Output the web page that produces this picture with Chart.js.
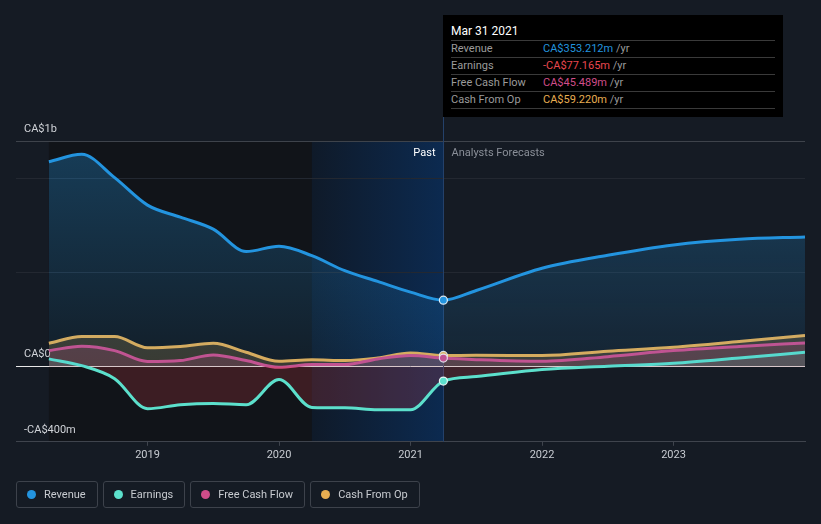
<!DOCTYPE html>
<html>
<head>
<meta charset="utf-8">
<script src="https://cdn.jsdelivr.net/npm/chart.js@4.4.0/dist/chart.umd.min.js"></script>
<style>
  html, body { margin: 0; padding: 0; background: #151b24; }
  body { width: 821px; height: 524px; position: relative; overflow: hidden; font-family: Roboto, "Open Sans", sans-serif; }
  #chartBox { position: absolute; left: 0; top: 0; width: 821px; height: 524px; }
  .tip { position: absolute; left: 443px; top: 15px; width: 340px; height: 102px; background: #000; box-sizing: border-box; padding: 8px 8px 0 8px; }
  .tip .title { color: #fff; font-size: 12px; height: 17px; line-height: 17px; border-bottom: 1px solid #3a3a3a; }
  .tip .row { height: 16px; line-height: 16px; font-size: 11px; border-bottom: 1px solid #3a3a3a; display: flex; }
  .tip .k { width: 92px; color: #9b9b9b; }
  .tip .u { color: #9b9b9b; }
  .legend { position: absolute; left: 16px; top: 481px; display: flex; gap: 5px; }
  .legend .item { height: 27px; box-sizing: border-box; border: 1px solid #3d424b; border-radius: 3px; display: flex; align-items: center; padding: 0 11px 0 10px; color: #c8cbd0; font-size: 11px; }
  .legend .dot { width: 9px; height: 9px; border-radius: 50%; margin-right: 8px; }
</style>
</head>
<body>
<div id="chartBox"><canvas id="myChart" width="821" height="524"></canvas></div>

<div class="tip">
  <div class="title">Mar 31 2021</div>
  <div class="row"><span class="k">Revenue</span><span style="color:#2394df">CA$353.212m</span><span class="u">&nbsp;/yr</span></div>
  <div class="row"><span class="k">Earnings</span><span style="color:#e8474f">-CA$77.165m</span><span class="u">&nbsp;/yr</span></div>
  <div class="row"><span class="k">Free Cash Flow</span><span style="color:#d04d8a">CA$45.489m</span><span class="u">&nbsp;/yr</span></div>
  <div class="row"><span class="k">Cash From Op</span><span style="color:#e8ae52">CA$59.220m</span><span class="u">&nbsp;/yr</span></div>
</div>

<div class="legend" id="legend"></div>

<script>
// reported quarters (trailing twelve months) and analyst forecast points, in years
const pastYears = [2018.25, 2018.5, 2018.75, 2019.0, 2019.25, 2019.5, 2019.75, 2020.0, 2020.25, 2020.5, 2020.75, 2021.0, 2021.25];
const forecastYears = [2021.5, 2022.0, 2022.5, 2023.0, 2023.5, 2024.0];

// values in CA$ millions
const revenuePast = [1090, 1129, 1005, 859, 795, 731, 612, 640, 590, 510, 453, 396, 353.212];
const revenueForecast = [405, 523, 592, 647, 677, 690];
const earningsPast = [41, 5, -64, -224, -203, -196, -203, -69, -217, -219, -229, -229, -77.165];
const earningsForecast = [-53, -16, 2, 18, 46, 76];
const fcfPast = [85, 108, 85, 27, 32, 62, 32, -4, 11, 11, 41, 59, 45.489];
const fcfForecast = [37, 28, 53, 85, 107, 126];
const cfoPast = [124, 160, 160, 100, 107, 124, 76, 28, 36, 32, 46, 73, 59.22];
const cfoForecast = [60, 59, 82, 103, 133, 165];

const seriesNames = ['Revenue', 'Earnings', 'Free Cash Flow', 'Cash From Op'];
const seriesColors = ['#2394df', '#5ce0cc', '#d04d8a', '#e8ae52'];

const xTicks = [2019, 2020, 2021, 2022, 2023];
const yTicks = [-400, 0, 500, 1000, 1200];
const yLabels = { '-400': '-CA$400m', '0': 'CA$0', '1200': 'CA$1b' };

const highlightStart = 2020.25; // last year of reported data
const nowYear = 2021.25;        // Mar 31 2021

function toPoints(past, forecast) {
  const pts = past.map((v, i) => ({ x: pastYears[i], y: v }));
  forecast.forEach((v, i) => pts.push({ x: forecastYears[i], y: v }));
  return pts;
}

const markerIndex = pastYears.length - 1;

function makeDataset(idx, past, forecast, fill) {
  return {
    label: seriesNames[idx],
    data: toPoints(past, forecast),
    borderColor: seriesColors[idx],
    borderWidth: 3,
    fill: fill.fill,
    backgroundColor: fill.bg,
    cubicInterpolationMode: 'monotone',
    pointRadius: ctx => ctx.dataIndex === markerIndex ? 4 : 0,
    pointBackgroundColor: seriesColors[idx],
    pointBorderColor: 'rgba(255,255,255,0.85)',
    pointBorderWidth: 1.2,
    pointHoverRadius: 0
  };
}

// Background bands, divider and Past/Forecast captions
const bandsPlugin = {
  id: 'bands',
  beforeDraw(chart) {
    const { ctx, chartArea, scales: { x } } = chart;
    const x0 = x.getPixelForValue(pastYears[0]);
    const x1 = x.getPixelForValue(highlightStart);
    const x2 = x.getPixelForValue(nowYear);
    ctx.save();
    ctx.fillStyle = '#111419';
    ctx.fillRect(x0, chartArea.top, x1 - x0, chartArea.height);
    const g = ctx.createLinearGradient(x1, 0, x2, 0);
    g.addColorStop(0, '#0f1a29');
    g.addColorStop(1, '#0c2a50');
    ctx.fillStyle = g;
    ctx.fillRect(x1, chartArea.top, x2 - x1, chartArea.height);
    ctx.restore();
  },
  beforeDatasetsDraw(chart) {
    const { ctx, chartArea, scales: { x } } = chart;
    const x2 = Math.round(x.getPixelForValue(nowYear)) + 0.5;
    ctx.save();
    ctx.strokeStyle = '#24416a';
    ctx.lineWidth = 1;
    ctx.beginPath();
    ctx.moveTo(x2, 117);
    ctx.lineTo(x2, chartArea.bottom);
    ctx.stroke();
    ctx.font = '11px Roboto';
    ctx.textBaseline = 'middle';
    ctx.fillStyle = '#ffffff';
    ctx.textAlign = 'right';
    ctx.fillText('Past', x2 - 8, chartArea.top + 12);
    ctx.fillStyle = '#8a8f98';
    ctx.textAlign = 'left';
    ctx.fillText('Analysts Forecasts', x2 + 8, chartArea.top + 12);
    ctx.restore();
  }
};

document.addEventListener("DOMContentLoaded", function() {
  // legend
  const legend = document.getElementById('legend');
  seriesNames.forEach((name, i) => {
    const item = document.createElement('div');
    item.className = 'item';
    item.innerHTML = '<span class="dot" style="background:' + seriesColors[i] + '"></span>' + name;
    legend.appendChild(item);
  });

  const revenueFill = ctx => {
    const chart = ctx.chart;
    const area = chart.chartArea;
    if (!area) return 'rgba(35,148,223,0.2)';
    const zero = chart.scales.y.getPixelForValue(0);
    const g = chart.ctx.createLinearGradient(0, area.top, 0, zero);
    g.addColorStop(0, 'rgba(35,148,223,0.32)');
    g.addColorStop(1, 'rgba(35,148,223,0.08)');
    return g;
  };

  const canvas = document.getElementById('myChart');
  new Chart(canvas.getContext('2d'), {
    type: 'line',
    data: {
      datasets: [
        makeDataset(0, revenuePast, revenueForecast, { fill: 'origin', bg: revenueFill }),
        makeDataset(1, earningsPast, earningsForecast, { fill: { target: 'origin', above: 'rgba(92,224,204,0.12)', below: 'rgba(214,64,72,0.22)' }, bg: 'rgba(92,224,204,0.12)' }),
        makeDataset(2, fcfPast, fcfForecast, { fill: 'origin', bg: 'rgba(208,77,138,0.2)' }),
        makeDataset(3, cfoPast, cfoForecast, { fill: 'origin', bg: 'rgba(232,174,82,0.2)' })
      ]
    },
    options: {
      responsive: false,
      animation: false,
      layout: { padding: { left: 0, right: 16, top: 141, bottom: 59 } },
      plugins: {
        legend: { display: false },
        tooltip: { enabled: false }
      },
      scales: {
        x: {
          type: 'linear',
          min: 2018,
          max: 2024,
          afterBuildTicks: s => { s.ticks = xTicks.map(v => ({ value: v })); },
          afterFit: s => { s.paddingLeft = 0; s.paddingRight = 0; },
          ticks: {
            color: '#c8ccd2',
            font: { size: 11, family: 'Roboto' },
            padding: 3,
            maxRotation: 0,
            callback: v => String(v)
          },
          grid: { drawOnChartArea: false, drawTicks: true, tickLength: 4, color: '#3f444d' },
          border: { color: '#3f444d' }
        },
        y: {
          min: -400,
          max: 1200,
          afterBuildTicks: s => { s.ticks = yTicks.map(v => ({ value: v })); },
          afterFit: s => { s.paddingTop = 0; s.paddingBottom = 0; },
          ticks: {
            mirror: true,
            padding: 8,
            labelOffset: -12,
            color: '#d0d3d8',
            font: { size: 11, family: 'Roboto' },
            callback: v => yLabels[String(v)] || ''
          },
          grid: {
            drawTicks: false,
            color: ctx => {
              const v = ctx.tick && ctx.tick.value;
              if (v === 0) return '#e8e8e8';
              if (v === 1200) return '#3e434b';
              if (v === -400) return 'rgba(0,0,0,0)';
              return '#232831';
            }
          },
          border: { display: false }
        }
      }
    },
    plugins: [bandsPlugin]
  });
});
</script>
</body>
</html>
